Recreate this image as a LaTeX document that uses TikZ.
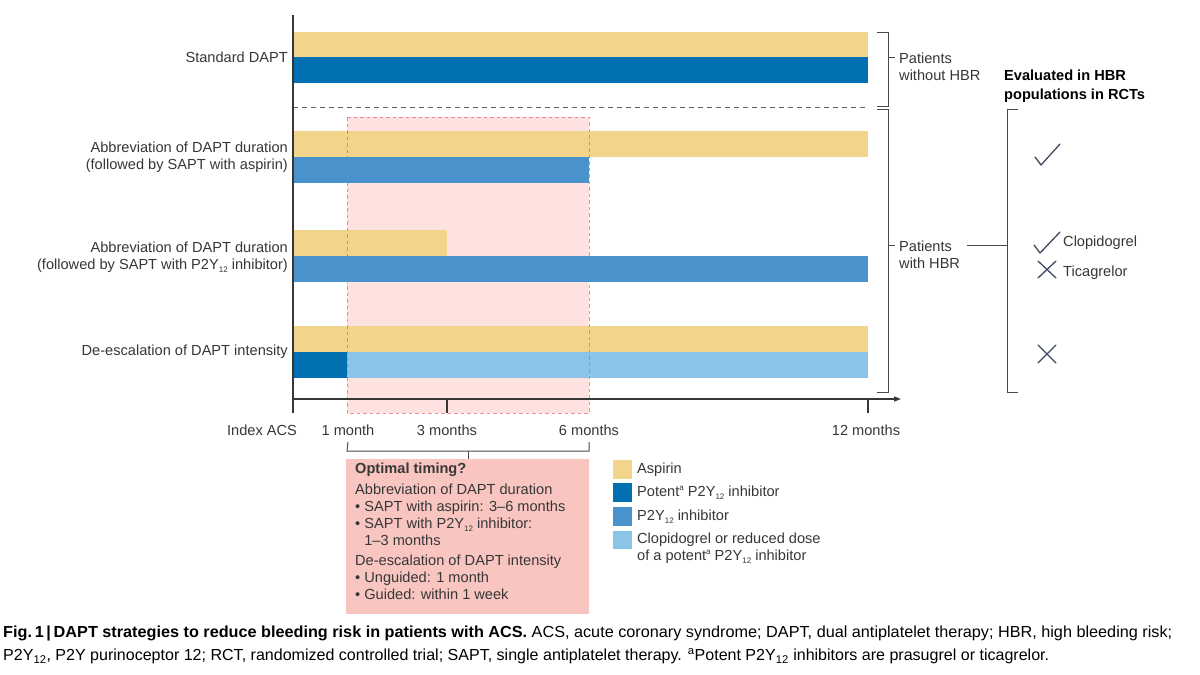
\documentclass[tikz,border=0pt]{standalone}
\usepackage{fontspec}
\usepackage{graphicx}
\setmainfont{Liberation Sans}
\usetikzlibrary{arrows.meta, positioning, calc}

\definecolor{aspirin}{RGB}{242,213,138}
\definecolor{potent}{RGB}{0,112,176}
\definecolor{ptwo}{RGB}{74,146,204}
\definecolor{clopi}{RGB}{140,196,232}
\definecolor{pinkbg}{RGB}{253,226,224}
\definecolor{pinkedge}{RGB}{232,96,110}
\definecolor{timingbg}{RGB}{248,197,192}
\definecolor{ink}{RGB}{55,55,55}
\definecolor{markc}{RGB}{62,74,98}

\newcommand{\pyt}{P2Y\raisebox{-0.35ex}{\fontsize{8}{8}\selectfont 12}}
\newcommand{\supa}{\raisebox{0.75ex}{\fontsize{8}{8}\selectfont a}}

\begin{document}
\begin{tikzpicture}[
  x=1pt, y=-1pt,
  lbl/.style    = {font=\fontsize{14.6}{17}\selectfont, text=ink, inner sep=0pt, align=right},
  side/.style   = {font=\fontsize{14.6}{17}\selectfont, text=ink, inner sep=0pt, align=left, anchor=west},
  axisline/.style = {draw=ink, line width=1.2pt},
  brk/.style    = {draw=ink!90, line width=1pt},
  okmark/.style = {draw=markc, line width=1.3pt, line cap=round, line join=round},
  capt/.style   = {font=\fontsize{16}{20}\selectfont, text=black, inner sep=0pt, anchor=west},
]
\useasboundingbox (0,0) rectangle (1200,675);
\fill[white] (0,0) rectangle (1200,675);

%--- Shaded window (1 to 6 months) ---
  \fill[pinkbg] (347,117) rectangle (589,413);

%--- Bars ---
  \fill[aspirin] (293,32)  rectangle (868,57);
  \fill[potent]  (293,57)  rectangle (868,83);

  \fill[aspirin] (293,131) rectangle (868,157);
  \fill[ptwo]    (293,157) rectangle (589,183);

  \fill[aspirin] (293,230) rectangle (447,256);
  \fill[ptwo]    (293,256) rectangle (868,282);

  \fill[aspirin] (293,326) rectangle (868,352);
  \fill[potent]  (293,352) rectangle (347,378);
  \fill[clopi]   (347,352) rectangle (868,378);

  \draw[pinkedge, line width=0.9pt, dash pattern=on 3.5pt off 3pt, opacity=0.7]
       (347,117) rectangle (589,413);

  \draw[ink!80, line width=1pt, dash pattern=on 5pt off 4pt] (293,107) -- (868,107);

%--- Row labels ---
  \node[lbl, anchor=east] (rstd) at (288,57)    {Standard DAPT};
  \node[lbl, anchor=east] (rasp) at (288,157)   {Abbreviation of DAPT duration\\(followed by SAPT with aspirin)};
  \node[lbl, anchor=east] (rpyt) at (288,257.5) {Abbreviation of DAPT duration\\(followed by SAPT with \pyt{} inhibitor)};
  \node[lbl, anchor=east] (resc) at (288,352)   {De-escalation of DAPT intensity};

%--- Time axis ---
  \coordinate (orig) at (293,399);
  \coordinate (tend) at (901,399);
  \draw[axisline] (293,15) -- (293,413);
  \draw[axisline, -{Triangle[length=7pt, width=5pt]}] (orig) -- (tend);
  \draw[axisline] (447,399) -- (447,413);
  \draw[axisline] (868,399) -- (868,413);

  \node[lbl] (tidx) at (262,430) {Index ACS};
  \node[lbl] (tone) at (348,430) {1 month};
  \node[lbl] (tthr) at (447,430) {3 months};
  \node[lbl] (tsix) at (589,430) {6 months};
  \node[lbl] (ttwl) at (866,430) {12 months};

%--- Optimal timing ---
  \draw[brk] (tone.south |- 0,442) -- (347,451) -- (589,451) -- (tsix.south |- 0,442);
  \fill[timingbg] (346,459) rectangle (589,614);
  \draw[brk] (468,451) -- (468,459);
  \node[side, anchor=north west] (opt) at (355,463)
    {\textbf{Optimal timing?}\\[4pt]
     Abbreviation of DAPT duration\\
     \textbullet\ SAPT with aspirin: 3--6 months\\
     \textbullet\ SAPT with \pyt{} inhibitor:\\
     \phantom{\textbullet\ }1--3 months\\[3pt]
     De-escalation of DAPT intensity\\
     \textbullet\ Unguided: 1 month\\
     \textbullet\ Guided: within 1 week};

%--- Legend ---
  \fill[aspirin] (613,460) rectangle (632,479);
  \fill[potent]  (613,483) rectangle (632,502);
  \fill[ptwo]    (613,507) rectangle (632,526);
  \fill[clopi]   (613,531) rectangle (632,549);
  \node[side] (lasp) at (637,469.5) {Aspirin};
  \node[side] (lpot) at (637,492.5) {Potent\supa{} \pyt{} inhibitor};
  \node[side] (lpyt) at (637,516.5) {\pyt{} inhibitor};
  \node[side] (lclo) at (637,548.5) {Clopidogrel or reduced dose\\of a potent\supa{} \pyt{} inhibitor};

%--- Patient groups ---
  \draw[brk] (877,32) -- (888,32) -- (888,106) -- (877,106);
  \draw[brk] (888,57) -- (895,57);
  \node[side] (pno) at (899,66.5) {Patients\\without HBR};

  \draw[brk] (877,109) -- (888,109) -- (888,392) -- (877,392);
  \draw[brk] (888,245) -- (895,245);
  \node[side] (phbr) at (899,254.5) {Patients\\with HBR};

  \coordinate (cbrk) at (1007,245);
  \draw[brk] ([xshift=7pt]phbr.east |- cbrk) -- (cbrk);
  \draw[brk] (1018,109) -- (1007,109) -- (1007,392) -- (1018,392);

%--- Evaluated in RCTs ---
  \node[side, font=\fontsize{14.6}{19}\selectfont\bfseries, text=black] (eval) at (1004,86.5)
    {Evaluated in HBR\\populations in RCTs};

  \draw[okmark] (1035,157) -- (1041,165) -- (1060,144);
  \draw[okmark] (1034,245) -- (1040,253) -- (1060,232);
  \node[side] (nclo) at (1063,243) {Clopidogrel};
  \draw[okmark] (1038,261) -- (1056,278) (1056,261) -- (1038,278);
  \node[side] (ntic) at (1063,273) {Ticagrelor};
  \draw[okmark] (1038,345) -- (1056,363) (1056,345) -- (1038,363);

%--- Caption ---
  \node[capt] (cap1) at (3,633) {\resizebox{1169pt}{\height}{\textbf{Fig.\,1\,|\,DAPT strategies to reduce bleeding risk in patients with ACS.} ACS, acute coronary syndrome; DAPT, dual antiplatelet therapy; HBR, high bleeding risk;}};
  \node[capt] (cap2) at (3,656) {\resizebox{1046pt}{\height}{P2Y\textsubscript{12}, P2Y purinoceptor 12; RCT, randomized controlled trial; SAPT, single antiplatelet therapy. \textsuperscript{a}Potent P2Y\textsubscript{12} inhibitors are prasugrel or ticagrelor.}};
\end{tikzpicture}
\end{document}
